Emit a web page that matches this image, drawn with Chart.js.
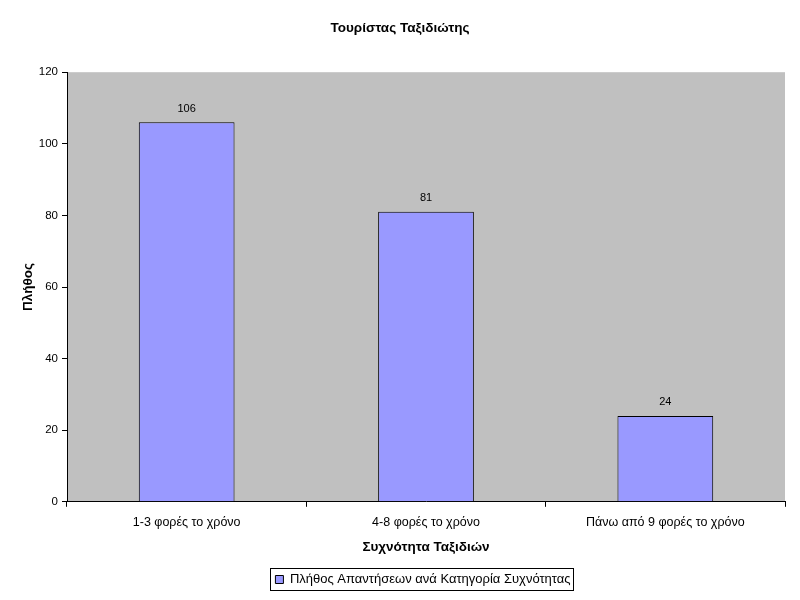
<!DOCTYPE html>
<html lang="el">
<head>
  <meta charset="UTF-8">
  <title>Τουρίστας Ταξιδιώτης</title>
  <script src="https://cdn.jsdelivr.net/npm/chart.js"></script>
  <style>
    body { margin: 0; background: #fff; }
  </style>
</head>
<body>
<canvas id="chart" width="800" height="600"></canvas>

<script>
    const categories = ['1-3 φορές το χρόνο', '4-8 φορές το χρόνο', 'Πάνω από 9 φορές το χρόνο'];
    const counts = [106, 81, 24];
    const seriesLabel = 'Πλήθος Απαντήσεων ανά Κατηγορία Συχνότητας';
    const yTicks = [0, 20, 40, 60, 80, 100, 120];

    const FONT = 'Arial, "Liberation Sans", sans-serif';

    // gray plot area
    const plotBg = {
        id: 'plotBg',
        beforeDraw(chart) {
            const a = chart.chartArea, ctx = chart.ctx;
            ctx.save();
            ctx.fillStyle = '#C0C0C0';
            ctx.fillRect(a.left, a.top, a.right - a.left, a.bottom - a.top);
            ctx.restore();
        }
    };

    // values above bars
    const valueLabels = {
        id: 'valueLabels',
        afterDatasetsDraw(chart) {
            const ctx = chart.ctx;
            const meta = chart.getDatasetMeta(0);
            ctx.save();
            ctx.font = '11px ' + FONT;
            ctx.fillStyle = '#000';
            ctx.textAlign = 'center';
            ctx.textBaseline = 'bottom';
            meta.data.forEach((bar, i) => {
                ctx.fillText(counts[i], bar.x, bar.y - 8);
            });
            ctx.restore();
        }
    };

    // legend sits a bit right of centre in the original, with a frame
    const legendFrame = {
        id: 'legendFrame',
        afterLayout(chart) {
            chart.legend.left += 23;
            chart.legend.right += 23;
        },
        afterDraw(chart) {
            const lg = chart.legend, ctx = chart.ctx;
            const item = lg.legendHitBoxes[0];
            if (!item) return;
            ctx.save();
            ctx.strokeStyle = '#000';
            ctx.lineWidth = 1;
            const x = Math.round(item.left - 5) + 0.5;
            const y = Math.round(item.top - 5) + 0.5;
            ctx.strokeRect(x, y, Math.round(item.width + 8), Math.round(item.height + 9));
            ctx.restore();
        }
    };

    new Chart(document.getElementById('chart'), {
        type: 'bar',
        data: {
            labels: categories,
            datasets: [{
                label: seriesLabel,
                data: counts,
                backgroundColor: '#9999FF',
                borderColor: '#000',
                borderWidth: 1,
                categoryPercentage: 1.0,
                barPercentage: 0.4
            }]
        },
        options: {
            responsive: false,
            animation: false,
            layout: { padding: { left: 15, right: 15, top: 0, bottom: 4 } },
            plugins: {
                title: {
                    display: true,
                    text: 'Τουρίστας Ταξιδιώτης',
                    color: '#000',
                    font: { family: FONT, size: 13.5, weight: 'bold' },
                    padding: { top: 20, bottom: 36 }
                },
                legend: {
                    position: 'bottom',
                    labels: {
                        color: '#000',
                        font: { family: FONT, size: 13 },
                        boxWidth: 8,
                        boxHeight: 8,
                        padding: 8,
                        generateLabels: () => [{
                            text: seriesLabel,
                            fillStyle: '#9999FF',
                            strokeStyle: '#000',
                            lineWidth: 1,
                            datasetIndex: 0
                        }]
                    }
                },
                tooltip: { enabled: false }
            },
            scales: {
                x: {
                    grid: {
                        offset: true,
                        drawOnChartArea: false,
                        drawTicks: true,
                        tickLength: 5,
                        color: '#000'
                    },
                    border: { color: '#000', width: 1 },
                    ticks: {
                        color: '#000',
                        font: { family: FONT, size: 12.5 },
                        padding: 8,
                        maxRotation: 0
                    },
                    title: {
                        display: true,
                        text: 'Συχνότητα Ταξιδιών',
                        color: '#000',
                        font: { family: FONT, size: 13.5, weight: 'bold' },
                        padding: { top: 1, bottom: 10 }
                    }
                },
                y: {
                    min: 0,
                    max: 120,
                    afterBuildTicks: axis => { axis.ticks = yTicks.map(v => ({ value: v })); },
                    afterFit: axis => { axis.width = 52; },
                    grid: {
                        drawOnChartArea: false,
                        drawTicks: true,
                        tickLength: 5,
                        color: '#000'
                    },
                    border: { color: '#000', width: 1 },
                    ticks: {
                        color: '#000',
                        font: { family: FONT, size: 11.5 },
                        padding: 4
                    },
                    title: {
                        display: true,
                        text: 'Πλήθος',
                        color: '#000',
                        font: { family: FONT, size: 13.5, weight: 'bold' },
                        padding: { top: 5, bottom: 0 }
                    }
                }
            }
        },
        plugins: [plotBg, valueLabels, legendFrame]
    });
</script>
</body>
</html>
